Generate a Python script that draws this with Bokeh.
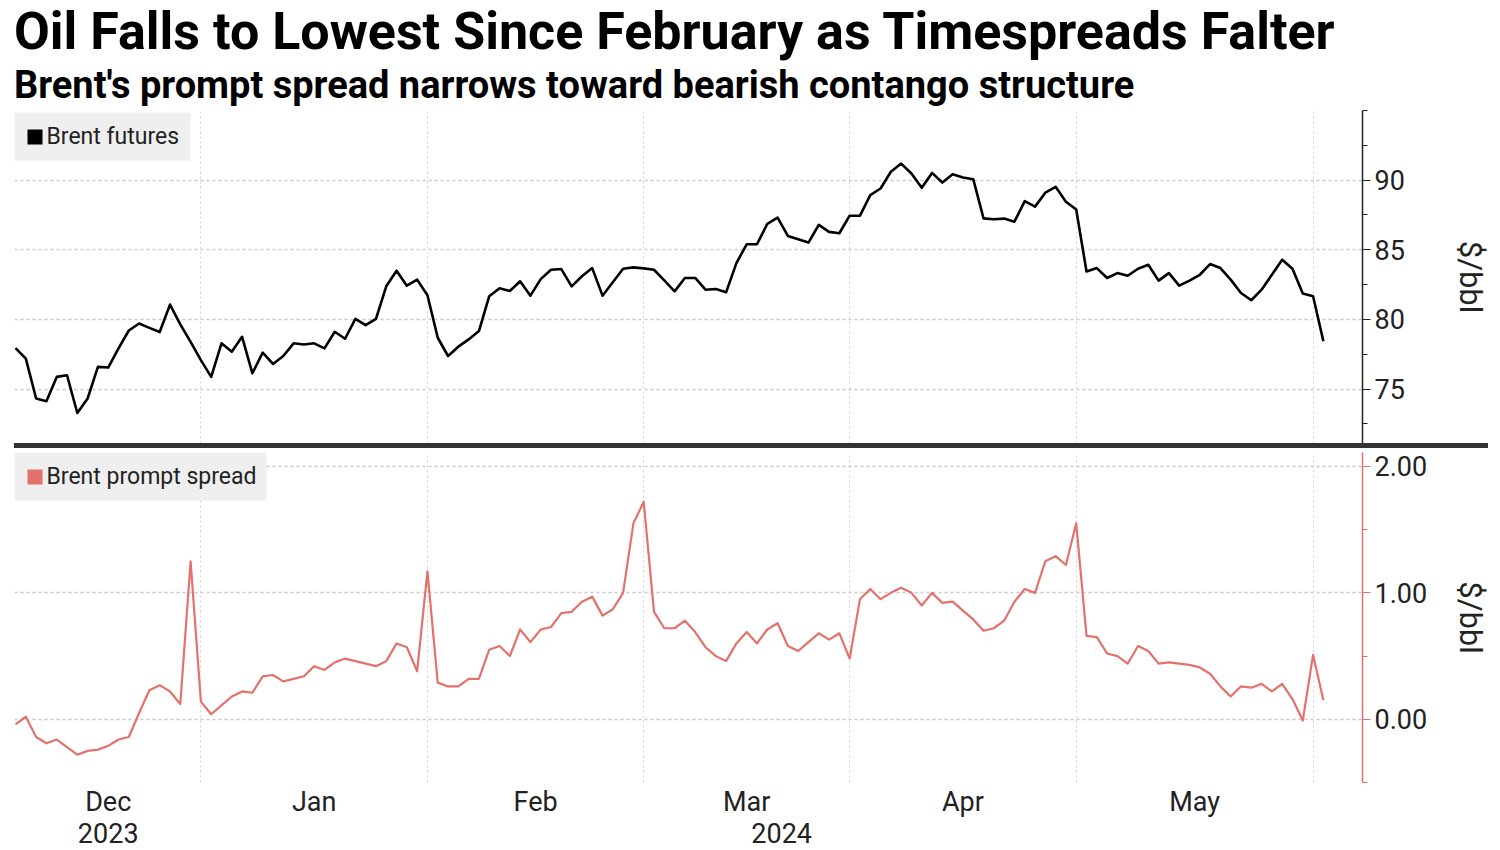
import html
import pandas as pd
from bokeh.plotting import figure
from bokeh.models import (Range1d, FixedTicker, CustomJSTickFormatter, LinearAxis,
                          BoxAnnotation, Label, Div, NumeralTickFormatter)
from bokeh.layouts import column
from bokeh.embed import file_html
from bokeh.resources import INLINE

# ---------------- data ----------------
trading_days = pd.bdate_range("2023-12-04", "2024-06-03")
holidays = pd.to_datetime(["2023-12-25", "2024-01-01", "2024-03-29"])
dates = trading_days[~trading_days.isin(holidays)]

brent_futures = [
    77.95, 77.19, 74.33, 74.14, 75.88, 76.00, 73.29, 74.33, 76.60, 76.55,
    77.93, 79.21, 79.71, 79.40, 79.10, 81.07, 79.65, 78.40, 77.08, 75.88,
    78.29, 77.69, 78.76, 76.14, 77.62, 76.81, 77.38, 78.29, 78.21, 78.29,
    77.93, 79.12, 78.62, 80.05, 79.60, 80.05, 82.38, 83.50, 82.43, 82.86,
    81.74, 78.69, 77.38, 78.05, 78.57, 79.17, 81.67, 82.24, 82.05, 82.74,
    81.71, 82.90, 83.57, 83.62, 82.38, 83.10, 83.69, 81.71, 82.67, 83.64,
    83.74, 83.67, 83.57, 82.81, 82.02, 82.98, 82.98, 82.14, 82.19, 81.95,
    84.05, 85.40, 85.40, 86.86, 87.31, 86.00, 85.76, 85.52, 86.79, 86.29,
    86.19, 87.45, 87.45, 88.93, 89.40, 90.60, 91.19, 90.48, 89.45, 90.52,
    89.83, 90.43, 90.19, 90.07, 87.26, 87.19, 87.24, 87.02, 88.50, 88.10,
    89.10, 89.52, 88.45, 87.90, 83.45, 83.69, 82.98, 83.33, 83.14, 83.64,
    83.93, 82.79, 83.33, 82.43, 82.79, 83.21, 83.98, 83.69, 82.86, 81.90,
    81.38, 82.14, 83.21, 84.29, 83.64, 81.86, 81.67, 78.45,
]

brent_prompt_spread = [
    -0.04, 0.02, -0.14, -0.19, -0.16, -0.22, -0.28, -0.25, -0.24, -0.21,
    -0.16, -0.14, 0.05, 0.23, 0.27, 0.22, 0.12, 1.25, 0.14, 0.04,
    0.11, 0.18, 0.22, 0.21, 0.34, 0.35, 0.30, 0.32, 0.34, 0.42,
    0.39, 0.45, 0.48, 0.46, 0.44, 0.42, 0.46, 0.60, 0.57, 0.38,
    1.17, 0.29, 0.26, 0.26, 0.32, 0.32, 0.55, 0.58, 0.50, 0.71,
    0.61, 0.71, 0.73, 0.84, 0.85, 0.93, 0.97, 0.82, 0.87, 1.00,
    1.55, 1.72, 0.85, 0.72, 0.72, 0.78, 0.69, 0.57, 0.50, 0.46,
    0.60, 0.69, 0.60, 0.71, 0.76, 0.58, 0.54, 0.61, 0.68, 0.63,
    0.68, 0.48, 0.95, 1.03, 0.95, 1.00, 1.04, 1.00, 0.90, 1.00,
    0.92, 0.93, 0.86, 0.79, 0.70, 0.72, 0.78, 0.93, 1.03, 1.00,
    1.25, 1.29, 1.22, 1.55, 0.66, 0.65, 0.52, 0.50, 0.44, 0.58,
    0.54, 0.44, 0.45, 0.44, 0.43, 0.41, 0.36, 0.26, 0.18, 0.26,
    0.25, 0.28, 0.22, 0.28, 0.16, -0.01, 0.51, 0.15,
]

month_names = ["Dec", "Jan", "Feb", "Mar", "Apr", "May"]
year_names = ["2023", "2024"]
top_ticks = [75, 80, 85, 90]
bottom_ticks = [0, 1, 2]

title_text = "Oil Falls to Lowest Since February as Timespreads Falter"
subtitle_text = "Brent's prompt spread narrows toward bearish contango structure"
top_legend_text = "Brent futures"
bottom_legend_text = "Brent prompt spread"
unit_text = "$/bbl"

# ---------------- derived positions (trading-day index axis) ----------------
x_idx = list(range(len(dates)))
periods = dates.to_period("M")
month_ends = []
for m in periods.unique()[:-1]:
    month_ends.append(max(i for i, p in enumerate(periods) if p == m))
X_START, X_END = -0.1, 130.8
month_centers = []
prev = 0
for e in month_ends:
    month_centers.append((prev + e) / 2)
    prev = e
year_centers = [month_centers[0], (month_ends[0] + X_END) / 2]

FONT = "Roboto"
TXT = "#222222"
RED = "#e3716c"
GRID = "#c9c9c9"

LEFT = 14          # frame left border
FRAME_W = 1354
RIGHT = 124


def label_formatter(tick_pos, tick_text):
    return CustomJSTickFormatter(
        args=dict(tpos=tick_pos, ttext=tick_text),
        code="""
        for (let i = 0; i < tpos.length; i++) {
            if (Math.abs(tpos[i] - tick) < 1e-6) return ttext[i];
        }
        return '';
        """)


def style_common(p):
    p.outline_line_color = None
    p.background_fill_color = "white"
    p.border_fill_color = "white"
    p.xgrid.ticker = FixedTicker(ticks=month_ends)
    p.xgrid.grid_line_color = "#d2d2d2"
    p.xgrid.grid_line_dash = "2 3"
    p.xgrid.grid_line_width = 1
    p.ygrid.grid_line_color = GRID
    p.ygrid.grid_line_dash = "3 3"
    p.ygrid.grid_line_width = 1.3


def style_yaxis(ax, color):
    ax.axis_line_color = color
    ax.axis_line_width = 1.5
    ax.major_tick_line_color = color
    ax.minor_tick_line_color = color
    ax.major_tick_out = 8
    ax.major_tick_in = 0
    ax.minor_tick_out = 5
    ax.minor_tick_in = 0
    ax.major_label_text_font = FONT
    ax.major_label_text_font_size = "27px"
    ax.major_label_text_color = TXT
    ax.major_label_standoff = 4
    ax.axis_label = unit_text
    ax.axis_label_text_font = FONT
    ax.axis_label_text_font_size = "31px"
    ax.axis_label_text_font_style = "normal"
    ax.axis_label_text_color = TXT


def add_legend(p, text, color, frame_h, box_w):
    # legend box drawn in frame-relative screen pixels (y measured up from frame bottom)
    top_y = frame_h - 2
    p.add_layout(BoxAnnotation(left=0, right=box_w, top=top_y, bottom=top_y - 48,
                               left_units="screen", right_units="screen",
                               top_units="screen", bottom_units="screen",
                               fill_color="#efefef", fill_alpha=1.0, line_color=None,
                               level="annotation"))
    p.add_layout(BoxAnnotation(left=13, right=28, top=top_y - 17, bottom=top_y - 32,
                               left_units="screen", right_units="screen",
                               top_units="screen", bottom_units="screen",
                               fill_color=color, fill_alpha=1.0, line_color=None,
                               level="annotation"))
    p.add_layout(Label(x=32, y=top_y - 24, x_units="screen", y_units="screen",
                       text=text, text_font=FONT, text_font_size="23px",
                       text_color=TXT, text_baseline="middle", text_align="left"))


# ---------------- titles ----------------
title_html = (
    '<div style="padding-top:1px;margin:0;">'
    '<div style="font-family:Roboto,sans-serif;font-weight:700;font-size:52px;'
    'line-height:normal;color:#000;white-space:nowrap;margin:0;padding:0;">'
    f'{html.escape(title_text)}</div>'
    '<div style="font-family:Roboto,sans-serif;font-weight:700;font-size:38px;'
    'line-height:normal;color:#000;white-space:nowrap;margin:1px 0 0 0;padding:0;">'
    f'{html.escape(subtitle_text)}</div>'
    '</div>'
)
titles = Div(text=title_html, width=1478, height=110, margin=(0, 0, 0, LEFT),
             styles={"overflow": "visible"})

# ---------------- top panel ----------------
TOP_FRAME_H = 333
top = figure(width=LEFT + FRAME_W + RIGHT, height=TOP_FRAME_H,
             x_range=Range1d(X_START, X_END), y_range=Range1d(71.1, 95.0),
             output_backend="svg", toolbar_location=None, y_axis_location="right",
             min_border_left=LEFT, min_border_right=RIGHT, min_border_top=0,
             min_border_bottom=0)
style_common(top)
top.xaxis.visible = False
top.yaxis.ticker = FixedTicker(ticks=top_ticks, minor_ticks=[72.5, 77.5, 82.5, 87.5, 92.5, 95])
style_yaxis(top.yaxis[0], "#222222")
top.yaxis.axis_label_standoff = 44
top.line(x_idx, brent_futures, line_color="black", line_width=2.6, line_join="round")
add_legend(top, top_legend_text, "black", TOP_FRAME_H, 176)

# ---------------- separator ----------------
sep = Div(text="", width=1474, height=5, margin=(0, 0, 0, LEFT),
          styles={"background-color": "#333333"})

# ---------------- bottom panel ----------------
BOT_FRAME_H = 330
bot = figure(width=LEFT + FRAME_W + RIGHT, height=400, x_range=top.x_range,
             y_range=Range1d(-0.5, 2.11),
             output_backend="svg", toolbar_location=None, y_axis_location="right",
             min_border_left=LEFT, min_border_right=RIGHT, min_border_top=4,
             min_border_bottom=66)
style_common(bot)
bot.yaxis.ticker = FixedTicker(ticks=bottom_ticks, minor_ticks=[-0.5, 0.5, 1.5])
bot.yaxis.formatter = NumeralTickFormatter(format="0.00")
style_yaxis(bot.yaxis[0], RED)
bot.yaxis.axis_label_standoff = 22
bot.line(x_idx, brent_prompt_spread, line_color=RED, line_width=2.2, line_join="round")
add_legend(bot, bottom_legend_text, RED, BOT_FRAME_H + 2, 252)

xa = bot.xaxis[0]
xa.ticker = FixedTicker(ticks=month_centers)
xa.formatter = label_formatter(month_centers, month_names)
xa.axis_line_color = None
xa.major_tick_line_color = None
xa.minor_tick_line_color = None
xa.major_tick_out = 0
xa.major_tick_in = 0
xa.major_label_standoff = 3
xa.major_label_text_font = FONT
xa.major_label_text_font_size = "27px"
xa.major_label_text_color = TXT

ya = LinearAxis(ticker=FixedTicker(ticks=year_centers),
                formatter=label_formatter(year_centers, year_names))
ya.axis_line_color = None
ya.major_tick_line_color = None
ya.minor_tick_line_color = None
ya.major_tick_out = 0
ya.major_tick_in = 0
ya.major_label_standoff = 2
ya.major_label_text_font = FONT
ya.major_label_text_font_size = "27px"
ya.major_label_text_color = TXT
bot.add_layout(ya, "below")

layout = column(titles, top, sep, bot, spacing=0)
open("out.html", "w").write(file_html(layout, INLINE))
